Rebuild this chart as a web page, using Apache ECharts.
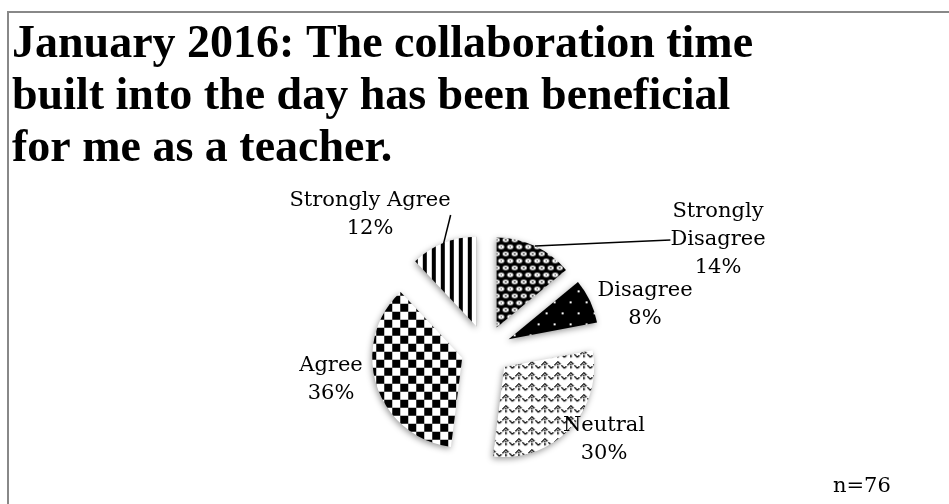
<!DOCTYPE html>
<html>
<head>
<meta charset="utf-8">
<script src="https://cdn.jsdelivr.net/npm/echarts@6/dist/echarts.min.js"></script>
<style>
  html, body { margin: 0; padding: 0; background: #fff; }
  #chart { width: 949px; height: 504px; }
</style>
</head>
<body>
<div id="chart"></div>
<script>
// Survey responses (percent of respondents), clockwise from 12 o'clock
const categories = ['Strongly\nDisagree', 'Disagree', 'Neutral', 'Agree', 'Strongly Agree'];
const percents = [14, 8, 30, 36, 12];
const titleLines = [
  'January 2016: The collaboration time',
  'built into the day has been beneficial',
  'for me as a teacher.'
];
const sampleNote = 'n=76';

// Centre of each label block
const labelSpots = [[718, 240], [645, 305], [604, 440], [331, 380], [370, 215]];
// Which labels get a leader line
const showLine = [true, false, false, false, true];

const PIE_CENTER = [486, 350];
const PIE_R = 90;
const EXPLODE = 25;

function tile(w, h, draw) {
  const c = document.createElement('canvas');
  c.width = w; c.height = h;
  const g = c.getContext('2d');
  draw(g);
  return { image: c, repeat: 'repeat' };
}

// Fill patterns for the slices
const patterns = [
  // woven ovals on black
  tile(9, 14, g => {
    g.fillStyle = '#000'; g.fillRect(0, 0, 9, 14);
    g.fillStyle = '#fff';
    const oval = (x, y) => { g.beginPath(); g.ellipse(x, y, 3.0, 2.2, 0, 0, Math.PI * 2); g.fill(); };
    oval(4.5, 3.5); oval(0, 10.5); oval(9, 10.5);
    g.fillStyle = '#000';
    g.fillRect(4, 3, 1, 1); g.fillRect(8, 10, 2, 1); g.fillRect(0, 10, 1, 1);
  }),
  // sparse white dots on black
  tile(16, 22, g => {
    g.fillStyle = '#000'; g.fillRect(0, 0, 16, 22);
    g.fillStyle = '#fff';
    g.fillRect(3, 4, 2, 2); g.fillRect(11, 15, 2, 2);
  }),
  // dashed scale arches on white
  tile(13, 11, g => {
    g.fillStyle = '#fff'; g.fillRect(0, 0, 13, 11);
    g.fillStyle = '#000';
    const pts = [[0,9],[1,8],[3,6],[4,5],[5,4],[6,3],[7,4],[8,5],[10,7],[11,8],[12,9],[6,6],[6,8],[6,9]];
    pts.forEach(p => g.fillRect(p[0], p[1], 1.4, 1.4));
  }),
  // checkerboard
  tile(16, 16, g => {
    g.fillStyle = '#fff'; g.fillRect(0, 0, 16, 16);
    g.fillStyle = '#000'; g.fillRect(0, 0, 8, 8); g.fillRect(8, 8, 8, 8);
  }),
  // vertical stripes
  tile(9, 4, g => {
    g.fillStyle = '#fff'; g.fillRect(0, 0, 9, 4);
    g.fillStyle = '#000'; g.fillRect(0, 0, 4, 4);
  })
];

const chart = echarts.init(document.getElementById('chart'), null, { renderer: 'canvas' });

const LABEL_FONT = 'DejaVu Serif';

chart.setOption({
  animation: false,
  backgroundColor: '#fff',
  title: {
    text: titleLines.join('\n'),
    left: 7,
    top: 14,
    textStyle: {
      fontFamily: 'Liberation Serif',
      fontWeight: 'bold',
      fontSize: 46,
      lineHeight: 52,
      color: '#000'
    }
  },
  graphic: [
    {
      type: 'rect',
      shape: { x: 8, y: 12, width: 960, height: 520 },
      style: { fill: 'none', stroke: '#888', lineWidth: 2 },
      silent: true
    },
    {
      type: 'text',
      left: 833,
      top: 476,
      style: { text: sampleNote, font: '21px "DejaVu Serif"', fill: '#000' },
      silent: true
    }
  ],
  series: [
    // the exploded, pattern-filled slices
    {
      type: 'pie',
      center: PIE_CENTER,
      radius: [0, PIE_R],
      startAngle: 90,
      clockwise: true,
      selectedMode: 'multiple',
      selectedOffset: EXPLODE,
      silent: true,
      emphasis: { disabled: true },
      itemStyle: {
        shadowBlur: 6,
        shadowColor: 'rgba(0,0,0,0.4)',
        shadowOffsetX: -1,
        shadowOffsetY: 2
      },
      label: { show: false },
      labelLine: { show: false },
      data: categories.map((name, i) => ({
        name: name,
        value: percents[i],
        selected: true,
        itemStyle: { color: patterns[i] }
      }))
    },
    // invisible companion ring whose rim meets the exploded slices, carrying the labels
    {
      type: 'pie',
      center: PIE_CENTER,
      radius: [0, PIE_R + EXPLODE],
      startAngle: 90,
      clockwise: true,
      silent: true,
      z: 5,
      emphasis: { disabled: true },
      itemStyle: { color: 'rgba(0,0,0,0)' },
      label: {
        show: true,
        position: 'outside',
        fontFamily: LABEL_FONT,
        fontSize: 21,
        lineHeight: 28,
        color: '#000',
        align: 'center',
        formatter: p => p.name + '\n' + p.value + '%'
      },
      labelLine: { lineStyle: { color: '#000', width: 1.5 }, length: 0, length2: 0 },
      labelLayout: params => {
        const s = labelSpots[params.dataIndex];
        return { x: s[0], y: s[1], align: 'center', verticalAlign: 'middle' };
      },
      data: categories.map((name, i) => ({
        name: name,
        value: percents[i],
        labelLine: { show: showLine[i] }
      }))
    }
  ]
});
</script>
</body>
</html>
